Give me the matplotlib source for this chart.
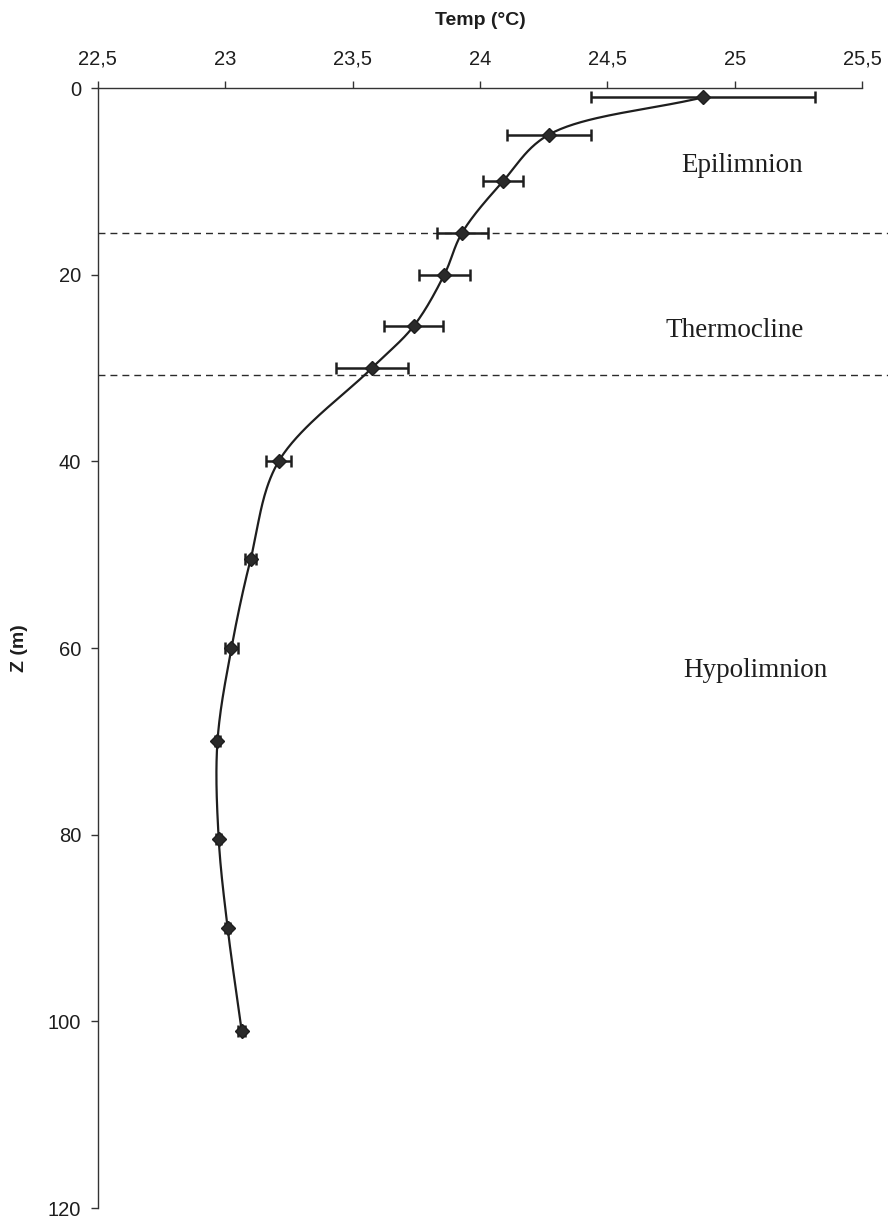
import numpy as np
import matplotlib
matplotlib.use("Agg")
import matplotlib.pyplot as plt
from matplotlib.ticker import FuncFormatter

# Temperature profile (mean and standard deviation) by depth
depth_m = [1, 5, 10, 15.5, 20, 25.5, 30, 40, 50.5, 60, 70, 80.5, 90, 101]
temp_c = [24.875, 24.27, 24.09, 23.93, 23.86, 23.74, 23.576, 23.21,
          23.10, 23.025, 22.97, 22.975, 23.01, 23.065]
temp_sd = [0.44, 0.165, 0.08, 0.10, 0.10, 0.115, 0.14, 0.05,
           0.02, 0.025, 0.01, 0.01, 0.01, 0.015]

# Layer boundaries and labels
boundaries_m = [15.5, 30.7]
layer_names = ["Epilimnion", "Thermocline", "Hypolimnion"]
layer_label_pos = [(25.03, 8.3), (25.0, 26.0), (25.08, 62.4)]

x_ticks = [22.5, 23, 23.5, 24, 24.5, 25, 25.5]
y_ticks = [0, 20, 40, 60, 80, 100, 120]

INK = "#1e1e1e"
SANS = "Liberation Sans"
SERIF = "Liberation Serif"

fig = plt.figure(figsize=(8.88, 12.21), dpi=100)
ax = fig.add_axes([0.110, 0.0106, 0.861, 0.9173])

ax.set_xlim(22.5, 25.5)
ax.set_ylim(120, 0)

# Axis styling: x axis on top, left spine only
for side in ("right", "bottom"):
    ax.spines[side].set_visible(False)
for side in ("top", "left"):
    ax.spines[side].set_color("#333333")
    ax.spines[side].set_linewidth(1.0)
ax.xaxis.set_ticks_position("top")
ax.xaxis.set_label_position("top")
ax.set_xticks(x_ticks)
ax.set_yticks(y_ticks)
ax.xaxis.set_major_formatter(FuncFormatter(lambda v, p: f"{v:g}".replace(".", ",")))
ax.tick_params(axis="both", direction="out", length=5, width=1.0, color="#333333",
               labelsize=14.5, labelcolor=INK)
ax.tick_params(axis="x", pad=9)
ax.tick_params(axis="y", pad=7)
for lab in ax.get_xticklabels() + ax.get_yticklabels():
    lab.set_fontfamily(SANS)

ax.set_xlabel("Temp (°C)", fontsize=14, fontweight="bold", family=SANS,
              color=INK, labelpad=18)
ax.set_ylabel("Z (m)", fontsize=14, fontweight="bold", family=SANS,
              color=INK, labelpad=14)


def smooth_path(pts, alpha=0.5, steps=40):
    """Centripetal Catmull-Rom curve through pts, built from cubic Bezier pieces."""
    pts = np.asarray(pts, float)
    ext = np.vstack([2 * pts[0] - pts[1], pts, 2 * pts[-1] - pts[-2]])
    out = []
    t = np.linspace(0, 1, steps)[:, None]
    for i in range(1, len(ext) - 2):
        p0, p1, p2, p3 = ext[i - 1], ext[i], ext[i + 1], ext[i + 2]
        d01 = max(np.linalg.norm(p1 - p0) ** alpha, 1e-9)
        d12 = max(np.linalg.norm(p2 - p1) ** alpha, 1e-9)
        d23 = max(np.linalg.norm(p3 - p2) ** alpha, 1e-9)
        m1 = d12 * ((p1 - p0) / d01 - (p2 - p0) / (d01 + d12) + (p2 - p1) / d12)
        m2 = d12 * ((p2 - p1) / d12 - (p3 - p1) / (d12 + d23) + (p3 - p2) / d23)
        c1 = p1 + m1 / 3.0
        c2 = p2 - m2 / 3.0
        seg = ((1 - t) ** 3) * p1 + 3 * ((1 - t) ** 2) * t * c1 \
            + 3 * (1 - t) * t ** 2 * c2 + t ** 3 * p2
        out.append(seg if not out else seg[1:])
    return np.vstack(out)


# Smoothed profile curve, computed in display space
fig.canvas.draw()
disp = ax.transData.transform(np.column_stack([temp_c, depth_m]))
curve_data = ax.transData.inverted().transform(smooth_path(disp))
ax.plot(curve_data[:, 0], curve_data[:, 1], color=INK, lw=1.6, zorder=3,
        solid_capstyle="round")

# Means with standard deviation bars
ax.errorbar(temp_c, depth_m, xerr=temp_sd, fmt="D", color=INK, ms=7.5,
            mfc="#2a2a2a", mec=INK, ecolor=INK, elinewidth=1.8,
            capsize=4.3, capthick=1.8, zorder=4)

# Layer boundaries
for b in boundaries_m:
    ax.plot([22.5, 25.61], [b, b], color="#2a2a2a", lw=1.0,
            dashes=(5, 3.6), clip_on=False, zorder=2)

for name, (x, y) in zip(layer_names, layer_label_pos):
    ax.text(x, y, name, ha="center", va="center", fontsize=19.5,
            family=SERIF, color=INK)

fig.savefig("out.png", dpi=100, facecolor="white")
